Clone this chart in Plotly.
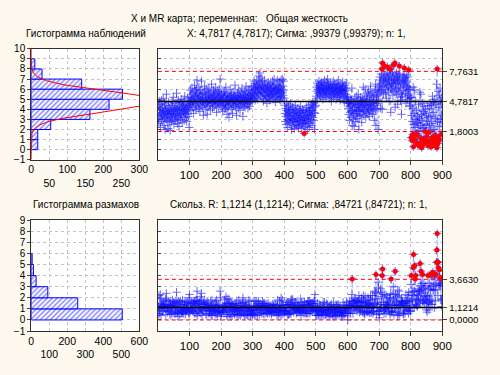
import math
import plotly.graph_objects as go

# ---------------- data ----------------
X_001_100 = [4.3, 3.1, 2.6, 4.8, 3.9, 3.3, 4.5, 2.2, 3.7, 4.1, 3.0, 4.9, 3.6, 2.8, 4.2, 3.4, 5.1, 3.8, 2.4, 3.5,
             4.6, 3.2, 2.0, 3.9, 4.4, 3.1, 5.5, 3.7, 2.9, 4.0, 3.3, 2.1, 3.8, 4.7, 3.5, 2.7, 4.1, 3.6, 1.9, 3.2,
             4.4, 3.9, 2.8, 3.5, 4.8, 3.0, 4.2, 3.6, 5.2, 3.8, 2.5, 4.0, 3.4, 4.6, 2.9, 3.7, 4.3, 3.1, 5.6, 4.0,
             3.3, 2.6, 4.1, 3.8, 4.9, 3.2, 2.3, 3.9, 4.4, 3.5, 4.7, 3.0, 3.6, 5.0, 4.2, 3.4, 2.7, 4.5, 3.9, 4.8,
             3.7, 4.3, 2.9, 4.0, 5.3, 3.6, 4.1, 3.2, 4.6, 3.8, 2.8, 4.4, 3.5, 5.1, 4.0, 3.3, 4.8, 4.2, 2.2, 4.5]
X_101_200 = [5.2, 4.4, 5.9, 4.8, 3.9, 5.5, 4.6, 6.1, 5.0, 4.2, 5.7, 4.9, 3.6, 5.3, 4.7, 6.4, 5.1, 4.5, 5.8, 4.0,
             5.4, 6.0, 4.3, 6.9, 5.2, 4.8, 5.6, 4.1, 5.0, 6.2, 4.6, 5.3, 3.8, 5.9, 4.9, 5.5, 4.4, 6.8, 5.1, 4.7,
             5.6, 4.2, 5.0, 3.4, 4.8, 5.7, 4.5, 6.3, 5.2, 4.0, 5.4, 4.9, 6.0, 4.6, 5.1, 3.5, 4.7, 5.8, 4.3, 5.5,
             4.9, 6.1, 5.3, 4.4, 5.0, 3.9, 5.6, 4.8, 5.2, 6.5, 4.7, 5.1, 4.1, 5.4, 4.6, 5.9, 5.0, 4.3, 5.7, 4.8,
             5.3, 4.5, 6.2, 4.9, 5.5, 3.7, 5.0, 4.6, 5.8, 5.1, 4.2, 5.6, 4.8, 6.0, 5.2, 4.4, 7.0, 5.0, 4.7, 5.4]
X_201_300 = [4.8, 5.5, 4.3, 5.1, 3.8, 4.9, 5.7, 4.5, 5.2, 4.0, 5.8, 4.6, 5.3, 4.1, 6.2, 4.9, 4.4, 5.4, 3.5, 5.0,
             4.7, 5.6, 4.2, 5.1, 3.2, 4.8, 5.3, 4.5, 6.0, 4.9, 5.2, 4.0, 5.5, 4.6, 5.0, 3.6, 4.8, 5.7, 4.4, 5.1,
             4.3, 5.4, 4.9, 6.4, 5.0, 4.2, 5.3, 4.7, 3.4, 5.1, 4.6, 5.6, 4.8, 5.2, 4.1, 5.9, 5.0, 4.5, 5.4, 3.9,
             5.2, 4.8, 5.7, 4.4, 5.0, 6.1, 4.6, 5.3, 3.3, 4.9, 5.5, 4.3, 5.1, 4.7, 5.8, 4.2, 5.4, 4.9, 6.3, 5.0,
             4.5, 5.6, 4.8, 5.2, 4.1, 5.9, 5.0, 4.6, 5.4, 4.3, 6.0, 5.1, 4.7, 5.5, 4.9, 6.2, 5.3, 4.8, 5.7, 5.1]
X_301_400 = [5.6, 6.3, 5.1, 6.8, 5.9, 5.4, 6.6, 4.9, 6.1, 5.7, 6.4, 5.2, 6.9, 5.8, 6.2, 5.0, 6.5, 5.6, 7.3, 6.0,
             5.5, 6.7, 7.6, 6.2, 5.3, 6.0, 7.1, 5.8, 6.4, 5.1, 6.8, 5.7, 6.3, 4.8, 6.1, 5.6, 6.9, 5.4, 6.2, 5.0,
             5.9, 6.5, 5.3, 6.0, 4.6, 5.7, 6.3, 5.2, 6.7, 5.8, 5.1, 6.4, 5.5, 6.1, 4.9, 5.8, 6.6, 5.3, 6.0, 5.5,
             6.2, 5.4, 6.8, 5.7, 5.0, 6.3, 5.6, 7.0, 5.9, 5.2, 6.1, 4.7, 5.8, 6.5, 5.3, 6.0, 5.6, 6.9, 5.1, 5.9,
             6.4, 5.5, 6.1, 5.0, 6.7, 5.8, 5.3, 6.2, 4.9, 6.9, 5.6, 6.0, 5.2, 7.0, 5.7, 6.3, 5.4, 6.8, 5.9, 5.1]
X_401_500 = [4.4, 3.6, 2.8, 4.1, 3.3, 2.5, 3.9, 4.6, 3.0, 3.5, 2.2, 3.8, 4.3, 2.9, 3.4, 4.0, 2.6, 3.7, 3.1, 4.5,
             2.7, 3.3, 2.0, 3.9, 3.0, 4.2, 2.4, 3.6, 2.9, 4.0, 3.2, 2.1, 3.7, 2.8, 4.4, 3.4, 2.5, 3.1, 3.8, 2.3,
             3.5, 2.8, 4.1, 3.0, 2.2, 3.6, 2.7, 3.9, 3.2, 2.4, 4.3, 3.3, 2.9, 3.7, 2.1, 3.4, 2.6, 4.0, 3.1, 2.5,
             3.8, 2.9, 1.6, 3.2, 2.6, 3.9, 3.0, 2.3, 3.6, 4.2, 2.8, 3.4, 2.0, 3.7, 3.1, 4.4, 2.7, 3.5, 2.2, 3.9,
             3.3, 4.1, 2.6, 3.8, 3.0, 4.5, 3.4, 2.4, 3.9, 4.7, 3.2, 4.2, 2.9, 4.6, 3.7, 2.0, 4.3, 3.6, 4.8, 4.4]
X_501_600 = [5.3, 6.2, 5.8, 6.6, 5.1, 6.0, 5.6, 6.4, 5.9, 6.8, 5.4, 6.1, 5.7, 6.5, 5.2, 6.3, 5.8, 6.7, 6.0, 5.5,
             6.2, 5.0, 6.6, 5.7, 6.1, 5.3, 6.9, 5.9, 6.4, 5.5, 6.0, 5.2, 6.7, 5.8, 6.3, 5.6, 7.0, 6.1, 5.4, 6.5,
             5.9, 6.3, 5.1, 6.0, 5.7, 6.6, 5.3, 6.2, 4.8, 5.9, 6.4, 5.5, 6.1, 5.8, 6.8, 5.2, 6.0, 5.6, 6.5, 5.4,
             6.1, 5.7, 6.4, 5.0, 6.2, 5.8, 6.6, 5.3, 6.0, 5.5, 6.9, 5.9, 5.2, 6.3, 5.6, 6.1, 4.9, 5.8, 6.5, 5.7,
             6.0, 5.4, 6.3, 5.9, 6.7, 5.1, 6.2, 5.6, 6.0, 4.7, 5.8, 6.4, 5.3, 6.1, 5.5, 6.6, 5.0, 5.9, 4.6, 5.2]
X_601_700 = [5.2, 4.1, 4.8, 3.5, 4.6, 2.9, 4.3, 3.7, 5.0, 4.4, 3.2, 4.9, 3.8, 6.1, 2.4, 3.9, 4.5, 3.0, 4.7, 3.6,
             2.3, 4.2, 5.1, 3.4, 4.6, 2.8, 4.0, 5.3, 3.6, 4.4, 3.1, 4.8, 3.9, 5.5, 4.2, 2.0, 3.8, 4.5, 3.3, 4.9,
             4.1, 5.2, 3.5, 4.7, 2.7, 4.3, 5.0, 3.8, 4.6, 6.2, 4.0, 3.4, 5.1, 4.4, 3.9, 6.0, 4.7, 3.2, 4.5, 5.3,
             3.7, 4.9, 4.2, 5.6, 3.6, 4.4, 5.8, 4.0, 3.3, 4.8, 5.4, 4.1, 6.3, 4.5, 3.8, 5.0, 4.3, 5.7, 3.5, 4.6,
             5.2, 3.9, 4.7, 5.5, 2.9, 4.4, 5.9, 4.0, 6.5, 2.4, 4.8, 5.3, 4.1, 6.0, 4.6, 5.4, 2.0, 4.9, 5.7, 6.2]
X_701_800 = [6.4, 7.2, 5.8, 6.9, 4.1, 6.6, 7.5, 5.9, 8.0, 4.0, 8.6, 6.3, 7.1, 5.5, 6.8, 7.4, 8.3, 6.0, 7.0, 5.6,
             6.7, 7.3, 5.1, 6.5, 7.6, 6.2, 8.2, 6.9, 5.7, 7.2, 6.4, 4.8, 6.8, 7.5, 8.0, 6.1, 3.7, 7.4, 6.6, 5.9,
             7.0, 6.3, 7.7, 5.4, 8.4, 6.6, 7.1, 5.8, 6.9, 8.6, 4.2, 6.5, 7.3, 6.0, 7.6, 5.5, 6.8, 7.2, 4.5, 6.7,
             7.4, 6.1, 5.7, 8.3, 6.9, 7.5, 6.2, 4.9, 6.6, 5.2, 3.5, 5.5, 7.0, 5.3, 6.8, 7.4, 5.9, 6.4, 7.2, 8.1,
             6.5, 7.1, 5.6, 6.9, 4.6, 6.3, 7.4, 5.8, 6.7, 5.0, 7.2, 6.0, 5.4, 7.9, 6.2, 5.1, 4.3, 6.0, 5.2, 4.4]
X_801_900 = [1.2, 5.2, 3.4, 0.9, 2.8, 4.1, 1.5, 6.2, 0.3, 2.5, 3.6, 1.0, 5.9, 2.2, 0.8, 4.8, 3.0, 1.6, 3.9, 2.6,
             1.4, 3.3, 0.5, 2.7, 4.5, 1.9, 0.4, 3.1, 5.7, 0.6, 2.4, 5.5, 1.1, 3.5, 0.2, 2.9, 4.6, 0.5, 2.1, 3.8,
             1.0, 4.3, 2.2, 0.7, 3.6, 1.8, 4.0, 0.9, 2.5, 3.4, 1.3, 0.6, 2.8, 4.4, 0.4, 3.2, 1.7, 0.8, 4.1, 2.4,
             0.5, 4.6, 1.9, 3.3, 0.3, 4.4, 2.6, 1.2, 5.3, 1.0, 3.7, 0.6, 4.7, 2.0, 0.9, 5.0, 1.4, 3.1, 0.4, 4.5,
             1.3, 6.5, 0.2, 8.0, 2.8, 0.6, 5.8, 1.1, 4.2, 0.9, 5.4, 2.3, 6.1, 3.0, 4.8, 1.5, 5.2, 3.4, 4.6, 2.7]

X = (X_001_100 + X_101_200 + X_201_300 + X_301_400 + X_401_500 +
     X_501_600 + X_601_700 + X_701_800 + X_801_900)

X_CL, X_UCL, X_LCL = 4.7817, 7.7631, 1.8003
X_SIGMA = 0.99379
MR_CL, MR_UCL, MR_LCL = 1.1214, 3.6630, 0.0

# histogram counts (bin lower edges)
HX_BINS = [0, 1, 2, 3, 4, 5, 6, 7, 8]
HX_COUNTS = [18, 18, 54, 163, 216, 253, 140, 30, 10]
HMR_BINS = [0, 1, 2, 3, 4, 5]
HMR_COUNTS = [505, 258, 92, 27, 12, 5]

X_TICKS = [100, 200, 300, 400, 500, 600, 700, 800, 900]
HX_TICKS = [0, 50, 100, 150, 200, 250, 300]
HMR_TICKS = [0, 100, 200, 300, 400, 500, 600]
TOP_Y_TICKS = [-1, 0, 1, 2, 3, 4, 5, 6, 7, 8, 9, 10]
BOT_Y_TICKS = [-1, 0, 1, 2, 3, 4, 5, 6, 7, 8, 9]

# ---------------- derived ----------------
N = len(X)
IDX = list(range(1, N + 1))
MR = [abs(X[i] - X[i - 1]) for i in range(1, N)]
MR_IDX = IDX[1:]

x_out = [(i, v) for i, v in zip(IDX, X) if v > X_UCL or v < X_LCL]
mr_out = [(i, v) for i, v in zip(MR_IDX, MR) if v > MR_UCL]

curve_y = [-1 + k * 0.05 for k in range(221)]
curve_x = [N * math.exp(-0.5 * ((y - X_CL) / X_SIGMA) ** 2) / (X_SIGMA * math.sqrt(2 * math.pi)) for y in curve_y]

# ---------------- layout geometry ----------------
W, H = 500, 375
def px(v): return v / W
def py(v): return 1 - v / H

FONT = "Liberation Sans, Arial, sans-serif"
BLUE = "#0000ff"
GRID = dict(showgrid=True, gridcolor="#c4c4c4", griddash="dot", gridwidth=1)
FRAME = dict(showline=True, linecolor="#303030", linewidth=1, mirror=True, zeroline=False)
TICKF_MAIN = dict(size=11.5, color="#000000", family=FONT)
TICKF_HIST = dict(size=10.5, color="#000000", family=FONT)
TICKF_HISTY = dict(size=10, color="#000000", family=FONT)
TICKF_RIGHT = dict(size=9.5, color="#000000", family=FONT)

fig = go.Figure()

hatch = dict(shape="/", fgcolor=BLUE, bgcolor="white", size=3.5, solidity=0.4)

# top histogram
fig.add_trace(go.Bar(x=HX_COUNTS, y=[b + 0.5 for b in HX_BINS], orientation="h", width=1,
                     marker=dict(color="white", line=dict(color=BLUE, width=1), pattern=hatch),
                     xaxis="x", yaxis="y", hoverinfo="skip"))
fig.add_trace(go.Scatter(x=curve_x, y=curve_y, mode="lines", line=dict(color="#ff0000", width=1),
                         xaxis="x", yaxis="y", hoverinfo="skip"))

# bottom histogram
fig.add_trace(go.Bar(x=HMR_COUNTS, y=[b + 0.5 for b in HMR_BINS], orientation="h", width=1,
                     marker=dict(color="white", line=dict(color=BLUE, width=1), pattern=hatch),
                     xaxis="x3", yaxis="y3", hoverinfo="skip"))

LINE_STYLE = dict(color="#a8a8ff", width=1, dash="dot")
CROSS = dict(symbol="cross-thin", size=6, opacity=0.6, line=dict(color="#1010ff", width=1))

# X chart
fig.add_trace(go.Scatter(x=IDX, y=X, mode="lines+markers", line=LINE_STYLE, marker=CROSS,
                         xaxis="x2", yaxis="y2", hoverinfo="skip"))
fig.add_trace(go.Scatter(x=[p[0] for p in x_out], y=[p[1] for p in x_out], mode="markers",
                         marker=dict(symbol="circle", size=5, color="#ff0000"),
                         xaxis="x2", yaxis="y2", hoverinfo="skip"))
# MR chart
fig.add_trace(go.Scatter(x=MR_IDX, y=MR, mode="lines+markers", line=LINE_STYLE, marker=CROSS,
                         xaxis="x4", yaxis="y4", hoverinfo="skip"))
fig.add_trace(go.Scatter(x=[p[0] for p in mr_out], y=[p[1] for p in mr_out], mode="markers",
                         marker=dict(symbol="circle", size=5, color="#ff0000"),
                         xaxis="x4", yaxis="y4", hoverinfo="skip"))
# dummy traces for right-hand label axes
fig.add_trace(go.Scatter(x=[None], y=[None], xaxis="x2", yaxis="y5", showlegend=False, hoverinfo="skip"))
fig.add_trace(go.Scatter(x=[None], y=[None], xaxis="x4", yaxis="y6", showlegend=False, hoverinfo="skip"))

# control lines
def hline(xa, y, color, width, dash):
    fig.add_shape(type="line", xref=f"{xa} domain", yref=xa.replace("x", "y"), x0=0, x1=1, y0=y, y1=y,
                  line=dict(color=color, width=width, dash=dash), layer="above")

hline("x2", X_CL, "#000000", 1.5, "solid")
hline("x2", X_UCL, "#ff0000", 1, "4px,3px")
hline("x2", X_LCL, "#ff0000", 1, "4px,3px")
hline("x4", MR_CL, "#000000", 1.5, "solid")
hline("x4", MR_UCL, "#ff0000", 1, "4px,3px")
hline("x4", MR_LCL, "#ff0000", 1, "4px,3px")

HX_DOM = [px(29), px(140)]
CH_DOM = [px(159), px(451)]
TOP_DOM = [py(159), py(45)]
BOT_DOM = [py(335), py(221)]
TOP_RANGE = [-1.0005, 10.0005]
BOT_RANGE = [-1.0005, 9.0005]

def stag(vals):
    return ["%d" % v if k % 2 == 0 else "<br>%d" % v for k, v in enumerate(vals)]

fig.update_layout(
    width=W, height=H, margin=dict(l=0, r=0, t=0, b=0),
    paper_bgcolor="#fdf9ee", plot_bgcolor="#ffffff", showlegend=False,
    font=dict(family=FONT, size=10.5, color="#000000"),
    barmode="overlay",
    xaxis=dict(domain=HX_DOM, anchor="y", range=[0, 300], tickvals=HX_TICKS, ticktext=stag(HX_TICKS),
               tickangle=0, ticks="", tickfont=TICKF_HIST, **GRID, **FRAME),
    yaxis=dict(domain=TOP_DOM, anchor="x", range=TOP_RANGE, tickvals=TOP_Y_TICKS, ticks="outside", ticklen=3,
               tickfont=TICKF_HISTY, **GRID, **FRAME),
    xaxis2=dict(domain=CH_DOM, anchor="y2", range=[0, 900], tickvals=X_TICKS, ticks="outside", ticklen=4,
                tickangle=0, tickfont=TICKF_MAIN, **GRID, **FRAME),
    yaxis2=dict(domain=TOP_DOM, anchor="x2", range=TOP_RANGE, tickvals=TOP_Y_TICKS, ticks="inside", ticklen=3,
                showticklabels=False, **GRID, **FRAME),
    yaxis5=dict(overlaying="y2", anchor="x2", side="right", range=TOP_RANGE,
                tickvals=[X_LCL, X_CL, X_UCL], ticktext=["1,8003", "4,7817", "7,7631"],
                ticks="outside", ticklen=4, tickfont=TICKF_RIGHT, showgrid=False, zeroline=False, showline=False),
    xaxis3=dict(domain=HX_DOM, anchor="y3", range=[0, 600], tickvals=HMR_TICKS, ticktext=stag(HMR_TICKS),
                tickangle=0, ticks="", tickfont=TICKF_HIST, **GRID, **FRAME),
    yaxis3=dict(domain=BOT_DOM, anchor="x3", range=BOT_RANGE, tickvals=BOT_Y_TICKS, ticks="outside", ticklen=3,
                tickfont=TICKF_HISTY, **GRID, **FRAME),
    xaxis4=dict(domain=CH_DOM, anchor="y4", range=[0, 900], tickvals=X_TICKS, ticks="outside", ticklen=4,
                tickangle=0, tickfont=TICKF_MAIN, **GRID, **FRAME),
    yaxis4=dict(domain=BOT_DOM, anchor="x4", range=BOT_RANGE, tickvals=BOT_Y_TICKS, ticks="inside", ticklen=3,
                showticklabels=False, **GRID, **FRAME),
    yaxis6=dict(overlaying="y4", anchor="x4", side="right", range=BOT_RANGE,
                tickvals=[MR_LCL, MR_CL, MR_UCL], ticktext=["0,0000", "1,1214", "3,6630"],
                ticks="outside", ticklen=4, tickfont=TICKF_RIGHT, showgrid=False, zeroline=False, showline=False),
)

def label(text, x, y, size=10.5):
    fig.add_annotation(text=text, x=px(x), y=py(y), xref="paper", yref="paper", showarrow=False,
                       xanchor="center", yanchor="middle", font=dict(size=size, family=FONT, color="#000000"))

label("X и MR карта; переменная:   Общая жесткость", 243, 14, 10)
label("Гистограмма наблюдений", 85, 29, 10)
label("X: 4,7817 (4,7817); Сигма: ,99379 (,99379); n: 1,", 301, 29, 10)
label("Гистограмма размахов", 85, 205, 10)
label("Скольз. R: 1,1214 (1,1214); Сигма: ,84721 (,84721); n: 1,", 303, 205, 10)

fig.write_html("out.html", config={"displayModeBar": False},
               post_script="document.body.style.margin='0';document.body.style.background='#fdf9ee';")
